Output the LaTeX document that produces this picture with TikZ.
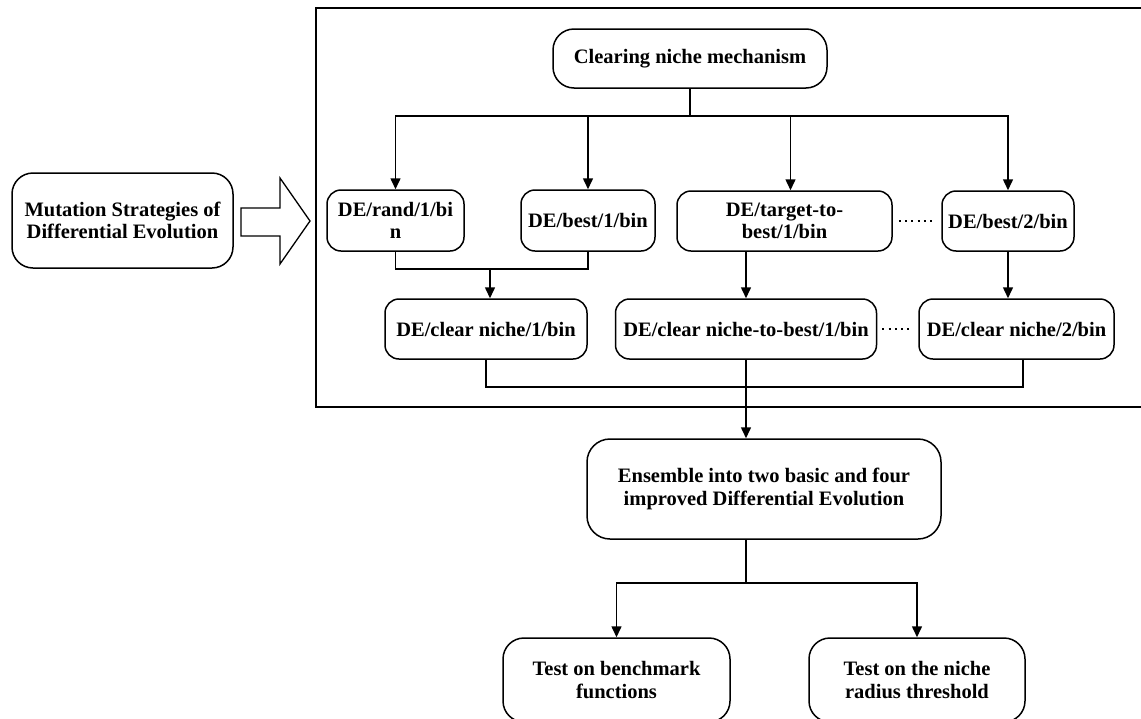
\documentclass[tikz,border=0pt]{standalone}
\usepackage{fontspec}
\setmainfont{Liberation Serif}
\usetikzlibrary{arrows.meta}
\begin{document}
\begin{tikzpicture}[x=1pt,y=-1pt,
  box/.style={draw,line width=1.5pt,rounded corners=14pt,align=center,inner sep=0pt,
    font=\fontsize{20.5}{22.5}\selectfont\bfseries},
  bigbox/.style={box,rounded corners=21pt},
  conn/.style={line width=1.5pt},
  arr/.style={conn,-{Triangle[length=11pt,width=10pt]}},
  dots/.style={line width=2pt,dash pattern=on 2pt off 4.3pt}]
\useasboundingbox (0,0) rectangle (1141,718);
\clip (0,0) rectangle (1141,718);
% frame
\draw[line width=1.3pt] (316,8) rectangle (1170,407);
% nodes
\node[bigbox,minimum width=221pt,minimum height=95pt] (mut) at (122.5,220.5) {Mutation Strategies of\\Differential Evolution};
\node[bigbox,minimum width=274pt,minimum height=59pt] (clr) at (690,58.5) {Clearing niche mechanism};
\node[box,minimum width=137pt,minimum height=61pt] (rand) at (395.5,220.5) {DE/rand/1/bi\\n};
\node[box,minimum width=134pt,minimum height=61pt] (best) at (588,220.5) {DE/best/1/bin};
\node[box,minimum width=215pt,minimum height=60pt] (tgt) at (784.5,221) {DE/target-to-\\best/1/bin};
\node[box,minimum width=132pt,minimum height=60pt] (best2) at (1008,221) {DE/best/2/bin};
\node[box,minimum width=202pt,minimum height=60pt] (n1) at (486,329) {DE/clear niche/1/bin};
\node[box,minimum width=261pt,minimum height=60pt] (ntb) at (746,329) {DE/clear niche-to-best/1/bin};
\node[box,minimum width=195pt,minimum height=60pt] (n2) at (1016.5,329) {DE/clear niche/2/bin};
\node[bigbox,rounded corners=23pt,minimum width=354pt,minimum height=100pt] (ens) at (764,489) {Ensemble into two basic and four\\improved Differential Evolution};
\node[bigbox,minimum width=227pt,minimum height=84pt] (tb) at (616.5,680) {Test on benchmark\\functions};
\node[bigbox,minimum width=216pt,minimum height=84pt] (tn) at (917,680) {Test on the niche\\radius threshold};
% hollow arrow
\draw[line width=1.3pt] (241,208) -- (280,208) -- (280,178) -- (310,221) -- (280,264) -- (280,236) -- (241,236) -- cycle;
% top bus
\coordinate (bus) at (690,116);
\draw[conn] (clr.south) -- (bus);
\draw[arr] (bus) -| (rand.north);
\draw[arr] (bus) -| (best.north);
\draw[arr] (bus) -| ([xshift=6pt]tgt.north);
\draw[arr] (bus) -| (best2.north);
% row 1 to row 2
\coordinate (j1) at (490,269);
\draw[conn] (rand.south) |- (j1) -| (best.south);
\draw[arr] (j1) -- (j1 |- n1.north);
\draw[arr] (ntb.north |- tgt.south) -- (ntb.north);
\draw[arr] (best2.south) -- (best2.south |- n2.north);
% dots
\draw[dots] ([xshift=6pt]tgt.east) -- ([xshift=-6pt]best2.west);
\draw[dots] ([xshift=5pt]ntb.east) -- ([xshift=-5pt]n2.west);
% bottom bus
\coordinate (j2) at (1023,387);
\draw[conn] (n1.south) |- (j2) -- (j2 |- n2.south);
\draw[arr] (ntb.south) -- (ntb.south |- ens.north);
% ensemble to tests
\coordinate (j3) at (746,583);
\draw[conn] (j3 |- ens.south) -- (j3);
\draw[arr] (j3) -| (tb.north);
\draw[arr] (j3) -| (tn.north);
\end{tikzpicture}
\end{document}
